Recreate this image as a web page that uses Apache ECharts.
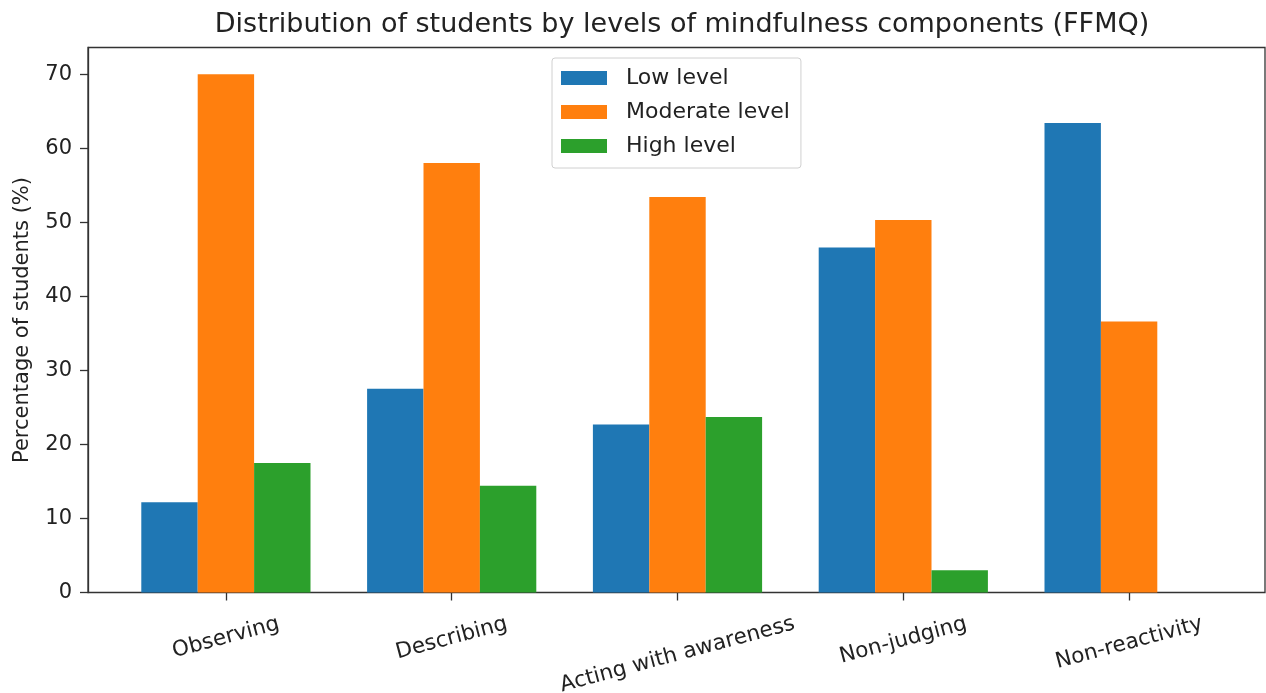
<!DOCTYPE html>
<html><head><meta charset="utf-8">
<script src="https://cdn.jsdelivr.net/npm/echarts@6/dist/echarts.min.js"></script>
<style>html,body{margin:0;padding:0;background:#fff}#c{width:1266px;height:693px}</style>
</head><body><div id="c"></div>
<script>
const categories = ["Observing", "Describing", "Acting with awareness", "Non-judging", "Non-reactivity"];
const lowLevel = [12.2, 27.5, 22.7, 46.6, 63.4];
const moderateLevel = [70.0, 58.0, 53.4, 50.3, 36.6];
const highLevel = [17.5, 14.4, 23.7, 3.0, 0];
const yTicks = [0, 10, 20, 30, 40, 50, 60, 70];

const font = 'DejaVu Sans';
const xLabelSize = 21.5;
const rot = 15 * Math.PI / 180;

// Per-label padding so rotated labels hang below the axis like matplotlib (ha=center, va=top)
const ctx = document.createElement('canvas').getContext('2d');
ctx.font = xLabelSize + 'px "' + font + '"';
const rich = {};
categories.forEach(function (c, i) {
  const w = ctx.measureText(c).width;
  const v = (w / 2) * Math.sin(rot);
  const p = 2 * v * Math.cos(rot);
  const r = p * Math.tan(rot);
  rich['c' + i] = {fontFamily: font, fontSize: xLabelSize, color: '#222', padding: [p, r, 0, 0]};
});

const chart = echarts.init(document.getElementById('c'));
chart.setOption({
  animation: false,
  backgroundColor: '#fff',
  title: {
    text: 'Distribution of students by levels of mindfulness components (FFMQ)',
    left: 677, top: 6, textAlign: 'center',
    textStyle: {fontFamily: font, fontSize: 27, fontWeight: 'normal', color: '#222'}
  },
  legend: {
    orient: 'vertical', left: 552, top: 58,
    itemWidth: 46, itemHeight: 14, itemGap: 12,
    padding: [9, 11, 11, 9],
    borderColor: '#d0d0d0', borderWidth: 1, borderRadius: 3,
    backgroundColor: 'rgba(255,255,255,0.85)',
    textStyle: {fontFamily: font, fontSize: 22, color: '#222', padding: [0, 0, 0, 14]},
    icon: 'rect',
    data: ['Low level', 'Moderate level', 'High level']
  },
  grid: [
    {left: 88, right: 1, top: 47.5, bottom: 100.5, show: true, borderColor: '#333', borderWidth: 1.3,
      containLabel: false, outerBoundsMode: 'none'},
    {left: 113, right: 24, top: 47.5, bottom: 100.5, containLabel: false, outerBoundsMode: 'none'}
  ],
  xAxis: [
    {gridIndex: 0, type: 'category', data: categories, show: false},
    {gridIndex: 1, type: 'category', data: categories,
      axisLine: {show: false},
      axisTick: {show: true, alignWithLabel: true, length: 8, lineStyle: {color: '#333', width: 1.3}},
      axisLabel: {interval: 0, rotate: 15, align: 'center', verticalAlign: 'middle', margin: 31,
        fontFamily: font, fontSize: xLabelSize, color: '#222',
        formatter: function (v) { return '{c' + categories.indexOf(v) + '|' + v + '}'; },
        rich: rich}
    }
  ],
  yAxis: [
    {gridIndex: 0, type: 'value', min: 0, max: 73.6,
      name: 'Percentage of students (%)', nameLocation: 'middle', nameGap: 55,
      nameTextStyle: {fontFamily: font, fontSize: 21, color: '#222'},
      axisLine: {show: true, lineStyle: {color: '#333', width: 1.3}},
      axisTick: {show: true, length: 8, lineStyle: {color: '#333', width: 1.3}, customValues: yTicks},
      axisLabel: {fontFamily: font, fontSize: 21, color: '#222', margin: 16, customValues: yTicks},
      splitLine: {show: false}
    },
    {gridIndex: 1, type: 'value', min: 0, max: 73.6, show: false, splitLine: {show: false}}
  ],
  series: [
    {name: 'Low level', type: 'bar', xAxisIndex: 1, yAxisIndex: 1, data: lowLevel,
      barWidth: 56.4, barGap: '0%', itemStyle: {color: '#1f77b4'}},
    {name: 'Moderate level', type: 'bar', xAxisIndex: 1, yAxisIndex: 1, data: moderateLevel,
      barWidth: 56.4, barGap: '0%', itemStyle: {color: '#ff7f0e'}},
    {name: 'High level', type: 'bar', xAxisIndex: 1, yAxisIndex: 1, data: highLevel,
      barWidth: 56.4, barGap: '0%', itemStyle: {color: '#2ca02c'}}
  ]
});
</script></body></html>
